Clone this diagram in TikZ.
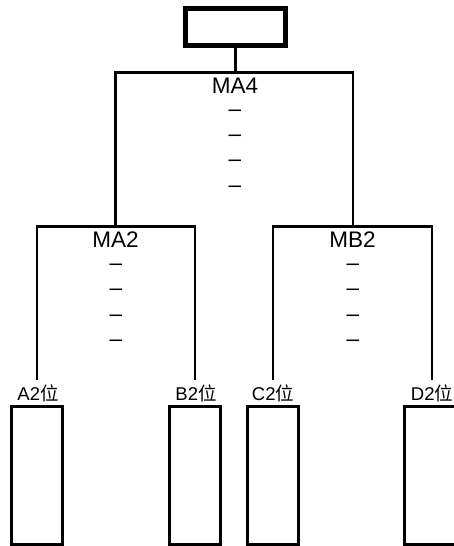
\documentclass[tikz,border=0pt]{standalone}
\usepackage{fontspec}
\setmainfont{Liberation Sans}
\newfontfamily\cjk{Noto Sans CJK SC}
\usetikzlibrary{positioning}

\tikzset{
	bar/.style={line width=2.8pt},
	rootbox/.style={draw, line width=5pt, minimum width=100pt, minimum height=37pt, inner sep=0pt},
	title/.style={font=\fontsize{22.5}{26}\selectfont, inner sep=0pt, anchor=base},
	dashmark/.style={font=\fontsize{22.5}{26}\selectfont, inner sep=0pt, anchor=base},
	leaflabel/.style={font=\fontsize{18.5}{20}\selectfont, inner sep=0pt, anchor=base},
	leafbox/.style={draw, line width=3pt, minimum width=51pt, minimum height=137.5pt, inner sep=0pt}
}

\begin{document}
\begin{tikzpicture}[x=1pt, y=-1pt]
	\useasboundingbox (0,0) rectangle (453,546);
	% top box and first split
	\node[rootbox] (root) at (235.5,27) {};
	\coordinate (j4) at (235.5,72.5);
	\coordinate (l4) at (115.5,72.5);
	\coordinate (r4) at (353,72.5);
	\coordinate (ma2top) at (115.5,226.5);
	\coordinate (mb2top) at (353,226.5);
	\draw[bar] (root.south) -- (j4);
	\draw[bar] (ma2top) -- (l4) -- (r4) -- (mb2top);
	\node[title] (ma4) at (235,93) {MA4};
	\foreach \i/\y in {1/116.7, 2/141.7, 3/166.7, 4/192.7}
		\node[dashmark] (d4-\i) at (235,\y) {–};
	
	% second split
	\coordinate (a2) at (37,226.5);
	\coordinate (b2) at (195,226.5);
	\coordinate (c2) at (273,226.5);
	\coordinate (d2) at (432,226.5);
	\coordinate (a2end) at (37,380);
	\coordinate (b2end) at (195,380);
	\coordinate (c2end) at (273,380);
	\coordinate (d2end) at (432,380);
	\draw[bar] (a2end) -- (a2) -- (b2) -- (b2end);
	\draw[bar] (c2end) -- (c2) -- (d2) -- (d2end);
	\node[title] (ma2) at (115.5,247.5) {MA2};
	\node[title] (mb2) at (352.5,247.5) {MB2};
	\foreach \i/\y in {1/270, 2/295.5, 3/321, 4/346} {
		\node[dashmark] (da-\i) at (116,\y) {–};
		\node[dashmark] (db-\i) at (353,\y) {–};
	}
	
	% leaves
	\node[leaflabel] (la) at (38,400) {A2{\cjk 位}};
	\node[leaflabel] (lb) at (196,400) {B2{\cjk 位}};
	\node[leaflabel] (lc) at (273,400) {C2{\cjk 位}};
	\node[leaflabel] (ld) at (432,400) {D2{\cjk 位}};
	\node[leafbox] (ba) at (36.5,475.25) {};
	\node[leafbox] (bb) at (195,475.25) {};
	\node[leafbox] (bc) at (273,475.25) {};
	\node[leafbox] (bd) at (430,475.25) {};
\end{tikzpicture}
\end{document}
